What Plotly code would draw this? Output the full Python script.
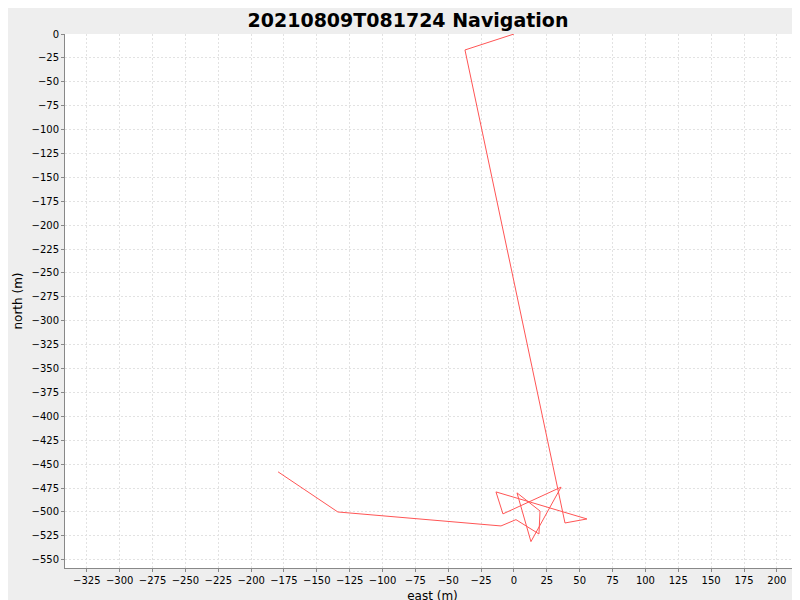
import plotly.graph_objects as go

east = [0, -37.3, 38.8, 55.5, -13.7, -8.4, 35.8, 12.9, 2.3, 19.8, 19.0, 1.5, -9.9, -134.0, -179.5]
north = [0, -16.7, -511.5, -507.3, -479.0, -502.0, -474.0, -531.0, -480.0, -499.0, -523.0, -508.0, -514.6, -500.0, -458.0]

fig = go.Figure()
fig.add_trace(go.Scatter(x=east, y=north, mode="lines", line=dict(color="#FF5555", width=1), showlegend=False))

axis = dict(showgrid=True, gridcolor="#E2E2E2", griddash="2px,2px", gridwidth=1, zeroline=False,
            showline=True, linecolor="#888888", ticks="outside", ticklen=3, tickcolor="#888888",
            tickfont=dict(size=10, color="#000000"), dtick=25, automargin=False)
fig.update_layout(
    title=dict(text="<b>20210809T081724 Navigation</b>", x=0.5, xanchor="center",
               y=1 - 12 / 600, yanchor="middle", font=dict(size=19, color="#000000")),
    paper_bgcolor="#EEEEEE", plot_bgcolor="#FFFFFF",
    width=800, height=600, margin=dict(l=57, r=8, t=26, b=40),
    font=dict(family="DejaVu Sans", color="#000000"),
)
fig.update_xaxes(axis, range=[-341.6, 217.6], tick0=0, title=dict(text="east (m)", font=dict(size=12), standoff=6))
fig.update_yaxes(axis, range=[-558.6, 0], tick0=0, title=dict(text="north (m)", font=dict(size=12), standoff=6))
fig.write_html("out.html")
